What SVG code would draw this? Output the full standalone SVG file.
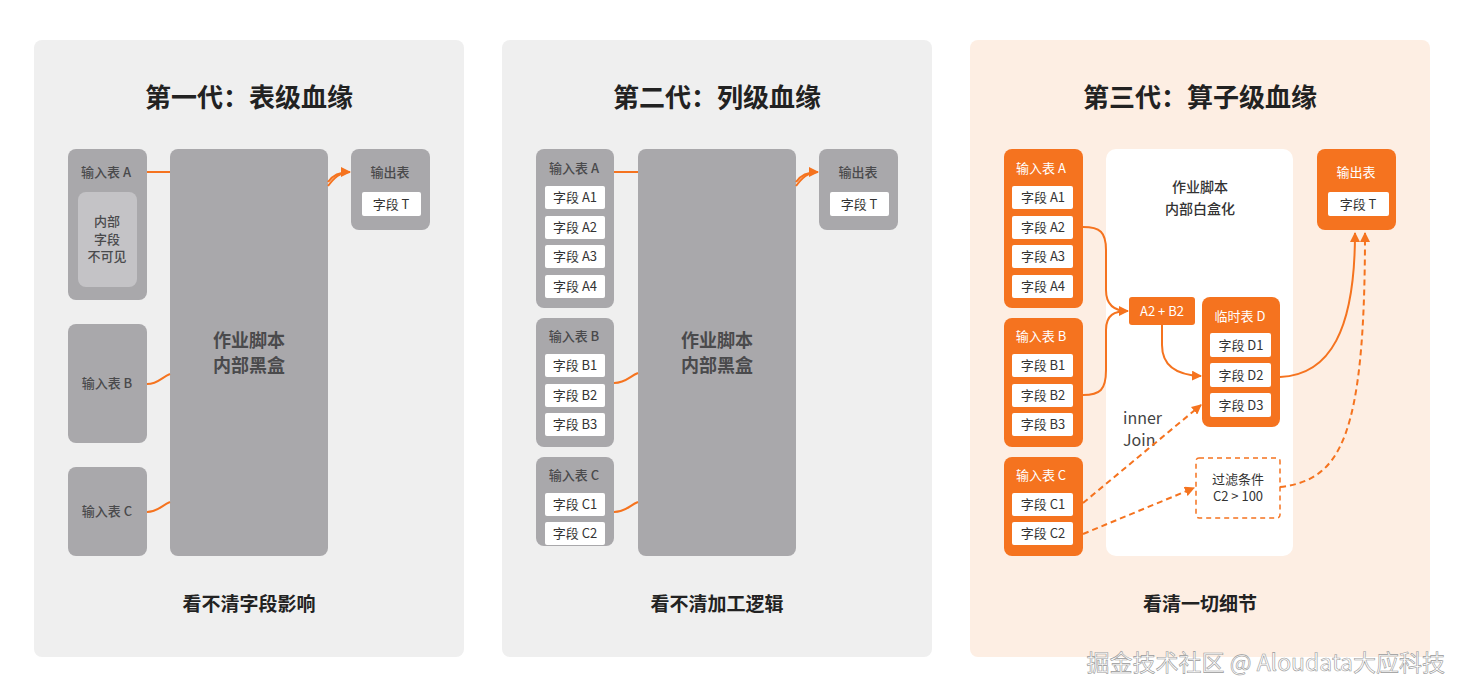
<svg xmlns="http://www.w3.org/2000/svg" width="1466" height="698" viewBox="0 0 1466 698">
<style>
text{font-family:"Noto Sans CJK SC","Noto Sans",sans-serif}
.t{font-size:26px;font-weight:bold;fill:#222;text-anchor:middle}
.b{font-size:19px;font-weight:bold;fill:#222;text-anchor:middle}
.g{fill:#a9a8ab}
.gl{font-size:13px;fill:#4a4a4c;font-weight:500;text-anchor:middle}
.big{font-size:18px;fill:#4a4a4c;font-weight:bold;text-anchor:middle}
.w{fill:#fff}
.f{font-size:13px;fill:#333;text-anchor:middle}
.o{fill:#f5731f}
.ol{font-size:13px;fill:#fff;text-anchor:middle}
.c{fill:none;stroke:#f5731f;stroke-width:2}
.d{fill:none;stroke:#f5731f;stroke-width:2;stroke-dasharray:6 4}
</style>
<defs><marker id="ar" viewBox="0 0 10 10" refX="9" refY="5" markerWidth="5" markerHeight="5" orient="auto"><path d="M0,0L10,5L0,10z" fill="#f5731f"/></marker></defs>
<rect width="1466" height="698" fill="#fff"/>
<rect x="34" y="40" width="430" height="617" rx="8" fill="#efefef"/>
<rect x="502" y="40" width="430" height="617" rx="8" fill="#efefef"/>
<rect x="970" y="40" width="460" height="617" rx="8" fill="#fdeee3"/>
<text class="t" x="249" y="107">第一代：表级血缘</text>
<text class="t" x="717" y="107">第二代：列级血缘</text>
<text class="t" x="1200" y="107">第三代：算子级血缘</text>
<text class="b" x="249" y="611">看不清字段影响</text>
<text class="b" x="717" y="611">看不清加工逻辑</text>
<text class="b" x="1200" y="611">看清一切细节</text>
<g id="p1">
<g id="p1a"><rect class="g" x="68" y="149" width="79" height="151" rx="8"/><text class="gl" x="106" y="177">输入表 A</text><rect x="78" y="192" width="59" height="95" rx="8" fill="#c4c3c6"/><text class="gl" x="107" y="226">内部</text><text class="gl" x="107" y="244">字段</text><text class="gl" x="107" y="261">不可见</text></g>
<g id="p1b"><rect class="g" x="68" y="324" width="79" height="119" rx="8"/><text class="gl" x="107" y="388">输入表 B</text></g>
<g id="p1c"><rect class="g" x="68" y="467" width="79" height="89" rx="8"/><text class="gl" x="107" y="516">输入表 C</text></g>
<g id="p1s"><rect class="g" x="170" y="149" width="158" height="407" rx="8"/><text class="big" x="249" y="347">作业脚本</text><text class="big" x="249" y="372">内部黑盒</text></g>
<g id="p1o"><rect class="g" x="351" y="149" width="79" height="81" rx="8"/><text class="gl" x="390" y="177">输出表</text><rect class="w" x="362" y="192" width="59" height="24" rx="2"/><text class="f" x="391" y="209">字段 T</text></g>
</g>
<g id="p2">
<g id="p2a"><rect class="g" x="536" y="149" width="78" height="159" rx="8"/><text class="gl" x="574" y="173">输入表 A</text>
<rect class="w" x="545" y="186" width="60" height="23" rx="2"/><text class="f" x="575" y="202">字段 A1</text>
<rect class="w" x="545" y="216" width="60" height="23" rx="2"/><text class="f" x="575" y="232">字段 A2</text>
<rect class="w" x="545" y="245" width="60" height="23" rx="2"/><text class="f" x="575" y="261">字段 A3</text>
<rect class="w" x="545" y="275" width="60" height="23" rx="2"/><text class="f" x="575" y="291">字段 A4</text></g>
<g id="p2b"><rect class="g" x="536" y="318" width="78" height="129" rx="8"/><text class="gl" x="574" y="341">输入表 B</text>
<rect class="w" x="545" y="354" width="60" height="23" rx="2"/><text class="f" x="575" y="370">字段 B1</text>
<rect class="w" x="545" y="384" width="60" height="23" rx="2"/><text class="f" x="575" y="400">字段 B2</text>
<rect class="w" x="545" y="413" width="60" height="23" rx="2"/><text class="f" x="575" y="429">字段 B3</text></g>
<g id="p2c"><rect class="g" x="536" y="457" width="78" height="89" rx="8"/><text class="gl" x="574" y="480">输入表 C</text>
<rect class="w" x="545" y="493" width="60" height="23" rx="2"/><text class="f" x="575" y="509">字段 C1</text>
<rect class="w" x="545" y="522" width="60" height="23" rx="2"/><text class="f" x="575" y="538">字段 C2</text></g>
<g id="p2s"><rect class="g" x="638" y="149" width="158" height="407" rx="8"/><text class="big" x="717" y="347">作业脚本</text><text class="big" x="717" y="372">内部黑盒</text></g>
<g id="p2o"><rect class="g" x="819" y="149" width="79" height="81" rx="8"/><text class="gl" x="858" y="177">输出表</text><rect class="w" x="830" y="192" width="59" height="24" rx="2"/><text class="f" x="859" y="209">字段 T</text></g>
</g>
<g id="p3">
<g id="p3s"><rect class="w" x="1106" y="149" width="187" height="407" rx="10"/><text x="1200" y="192" style="fill:#333;font-size:14px;font-weight:500;text-anchor:middle">作业脚本</text><text x="1200" y="214" style="fill:#333;font-size:14px;font-weight:500;text-anchor:middle">内部白盒化</text></g>
<g id="p3a"><rect class="o" x="1004" y="149" width="79" height="159" rx="8"/><text class="ol" x="1041" y="173">输入表 A</text>
<rect class="w" x="1012" y="186" width="61" height="23" rx="2"/><text class="f" x="1043" y="202">字段 A1</text>
<rect class="w" x="1012" y="216" width="61" height="23" rx="2"/><text class="f" x="1043" y="232">字段 A2</text>
<rect class="w" x="1012" y="245" width="61" height="23" rx="2"/><text class="f" x="1043" y="261">字段 A3</text>
<rect class="w" x="1012" y="275" width="61" height="23" rx="2"/><text class="f" x="1043" y="291">字段 A4</text></g>
<g id="p3b"><rect class="o" x="1004" y="318" width="79" height="129" rx="8"/><text class="ol" x="1041" y="341">输入表 B</text>
<rect class="w" x="1012" y="354" width="61" height="23" rx="2"/><text class="f" x="1043" y="370">字段 B1</text>
<rect class="w" x="1012" y="384" width="61" height="23" rx="2"/><text class="f" x="1043" y="400">字段 B2</text>
<rect class="w" x="1012" y="413" width="61" height="23" rx="2"/><text class="f" x="1043" y="429">字段 B3</text></g>
<g id="p3c"><rect class="o" x="1004" y="457" width="79" height="99" rx="8"/><text class="ol" x="1041" y="480">输入表 C</text>
<rect class="w" x="1012" y="493" width="61" height="23" rx="2"/><text class="f" x="1043" y="509">字段 C1</text>
<rect class="w" x="1012" y="522" width="61" height="23" rx="2"/><text class="f" x="1043" y="538">字段 C2</text></g>
<g id="p3ab"><rect class="o" x="1129" y="297" width="66" height="28" rx="3"/><text class="ol" x="1162" y="316">A2 + B2</text></g>
<g id="p3d"><rect class="o" x="1202" y="297" width="78" height="130" rx="8"/><text class="ol" x="1240" y="321">临时表 D</text>
<rect class="w" x="1210" y="333" width="61" height="24" rx="2"/><text class="f" x="1241" y="350">字段 D1</text>
<rect class="w" x="1210" y="363" width="61" height="24" rx="2"/><text class="f" x="1241" y="380">字段 D2</text>
<rect class="w" x="1210" y="393" width="61" height="24" rx="2"/><text class="f" x="1241" y="410">字段 D3</text></g>
<g id="p3f"><rect x="1196" y="458" width="84" height="60" rx="3" fill="#fff" stroke="#f5731f" stroke-width="1.5" stroke-dasharray="5 4"/><text class="f" x="1238" y="484">过滤条件</text><text class="f" x="1238" y="501">C2 &gt; 100</text></g>
<g id="p3o"><rect class="o" x="1317" y="149" width="79" height="81" rx="8"/><text class="ol" x="1356" y="177">输出表</text><rect class="w" x="1328" y="192" width="61" height="24" rx="2"/><text class="f" x="1358" y="209">字段 T</text></g>
<text x="1123" y="424" style="font-size:16px;fill:#444">inner</text>
<text x="1123" y="446" style="font-size:16px;fill:#444">Join</text>
</g>
<g id="connectors">
<path class="c" d="M147,172H170"/>
<path class="c" d="M147,384C158,384 162,377 170,374"/>
<path class="c" d="M147,512C158,512 162,505 170,502"/>
<path class="c" d="M328,182C332,176 338,172 350,172" marker-end="url(#ar)"/>
<path class="c" d="M328,186C334,178 340,172 350,172"/>
<path class="c" d="M614,172H638"/>
<path class="c" d="M614,383C626,383 630,376 638,373"/>
<path class="c" d="M614,512C626,512 630,505 638,502"/>
<path class="c" d="M796,182C800,176 806,172 818,172" marker-end="url(#ar)"/>
<path class="c" d="M796,186C802,178 808,172 818,172"/>
<path class="c" d="M1083,227C1100,227 1106,232 1106,250V290C1106,305 1114,311 1128,311" marker-end="url(#ar)"/>
<path class="c" d="M1083,395C1100,395 1106,390 1106,370V330C1106,315 1114,311 1128,311"/>
<path class="c" d="M1162,325V345C1162,365 1175,375 1201,376" marker-end="url(#ar)"/>
<path class="d" d="M1083,503L1201,405" marker-end="url(#ar)"/>
<path class="d" d="M1083,534L1194,488" marker-end="url(#ar)"/>
<path class="c" d="M1280,377C1330,375 1355,330 1355,233" marker-end="url(#ar)"/>
<path class="d" d="M1280,487C1340,480 1365,440 1365,233" marker-end="url(#ar)"/>
</g>
<text x="1445" y="671" text-anchor="end" style="font-size:23px;fill:#fff;stroke:#999;stroke-width:0.6">掘金技术社区 @ Aloudata大应科技</text>
</svg>
